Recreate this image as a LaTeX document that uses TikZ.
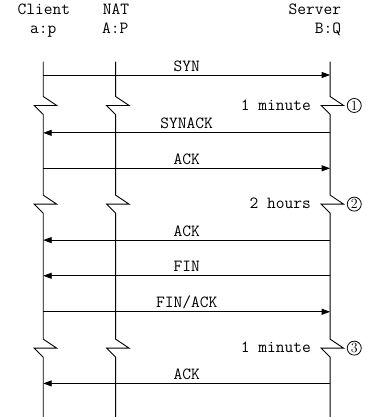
\documentclass[tikz,border=0pt]{standalone}
\usetikzlibrary{arrows.meta}
\begin{document}
\begin{tikzpicture}[x=36bp,y=-36bp,line width=0.9bp,
    font=\ttfamily\fontsize{17bp}{20bp}\selectfont,
    msg/.style={-{Triangle[length=8.5bp,width=6bp]}},
    lbl/.style={above,inner sep=0,yshift=3.5bp,text depth=0pt},
    num/.style={draw,circle,inner sep=0,minimum size=14bp,line width=0.8bp,
      font=\fontsize{14bp}{14bp}\selectfont}]
  \useasboundingbox (0,0) rectangle (10.194,11.583);
  % hosts
  \node[anchor=base] (cl) at (1.22,0.39) {Client};
  \node[anchor=base] (cla) at (1.2,0.94) {a:p};
  \node[anchor=base] (nt) at (3.22,0.39) {NAT};
  \node[anchor=base] (nta) at (3.2,0.94) {A:P};
  \node[anchor=base east] (sv) at (9.58,0.39) {Server};
  \node[anchor=base east] (sva) at (9.58,0.94) {B:Q};
  \coordinate (c) at (1.2,1.71);
  \coordinate (n) at (3.21,1.71);
  \coordinate (s) at (9.17,1.71);
  % lifelines with breaks
  \foreach \h in {c,n,s}
    \draw (\h) \foreach \y in {2.93,5.67,9.67} {-- (\h |- 0,\y-0.25) -- ++(0.375,0.25)
      -- ++(-0.625,0) -- (\h |- 0,\y+0.25)} -- (\h |- 0,11.6);
  % waits
  \foreach \y/\t/\k in {2.93/1 minute/1,5.67/2 hours/2,9.67/1 minute/3} {
    \node[anchor=base east,inner sep=0] (w\k) at (8.65,\y+0.13) {\t};
    \node[num] (m\k) at (9.84,\y) {\k};
  }
  % segments
  \foreach \y/\a/\b/\t in {2.083/c/s/SYN,3.69/s/c/SYNACK,4.675/c/s/ACK,6.67/s/c/ACK,
      7.66/s/c/FIN,8.66/c/s/{FIN/ACK},10.65/s/c/ACK}
    \draw[msg] (\a |- 0,\y) -- (\b |- 0,\y) node[lbl,midway] {\t};
\end{tikzpicture}
\end{document}
